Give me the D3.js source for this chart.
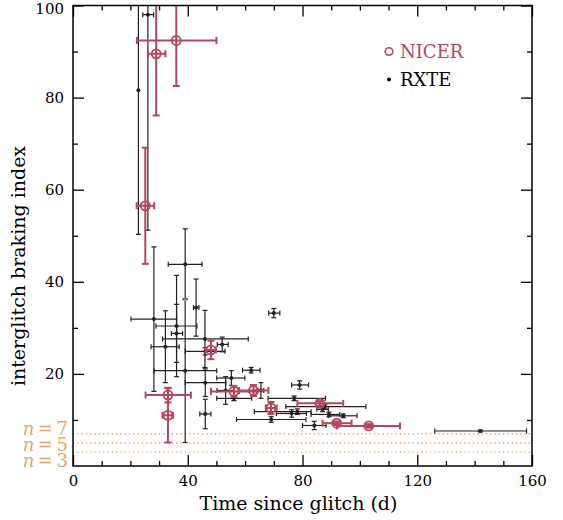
<!DOCTYPE html>
<html>
<head>
<meta charset="utf-8">
<script src="https://cdn.jsdelivr.net/npm/d3@7"></script>
<style>
  html, body { margin: 0; padding: 0; background: #fff; }
  svg { display: block; }
  text { font-family: "DejaVu Serif", serif; }
</style>
</head>
<body>
<svg id="chart" width="563" height="520"></svg>
<script>
// NICER measurements: time since glitch (d) with its range, braking index and its error
const nicerT    = [36.0, 29.0, 25.2, 48.1, 33.1, 33.1, 56.1, 62.9, 69.0, 86.1, 91.9, 103.1];
const nicerTLo  = [22.3, 26.1, 22.2, 46.2, 25.3, 31.2, 48.1, 57.9, 67.2, 78.2, 87.0, 92.0];
const nicerTHi  = [50.0, 32.2, 28.3, 49.9, 41.1, 34.9, 64.0, 68.1, 71.0, 94.2, 97.1, 114.0];
const nicerN    = [92.4, 89.5, 56.5, 25.2, 15.4, 11.0, 16.2, 16.4, 12.6, 13.6, 9.3, 8.7];
const nicerNErr = [9.9, 13.4, 12.6, 2.0, 1.6, 5.9, 1.2, 1.2, 1.3, 0.5, 0.4, 0.4];

// RXTE measurements
const rxteT    = [22.8, 26.1, 28.2, 39.1, 39.1, 39.1, 36.1, 36.1, 32.2, 42.9, 46.0, 46.1, 46.1, 46.1,
                  52.0, 70.0, 62.1, 55.2, 53.2, 56.1, 65.5, 79.0, 77.1, 87.8, 87.0, 89.2, 94.2,
                  76.2, 78.2, 69.1, 84.1, 142.0];
const rxteTLo  = [22.8, 24.3, 20.2, 33.2, 39.1, 28.3, 28.9, 34.3, 27.2, 42.0, 31.2, 39.1, 39.1, 44.2,
                  50.3, 68.2, 59.1, 50.1, 50.2, 50.1, 64.5, 76.2, 68.0, 74.2, 85.0, 83.0, 89.0,
                  70.9, 63.2, 57.0, 80.0, 126.1];
const rxteTHi  = [22.8, 28.1, 36.1, 45.0, 39.1, 50.1, 43.2, 38.2, 37.0, 43.9, 61.1, 53.0, 53.3, 48.1,
                  54.1, 72.1, 65.2, 59.9, 56.2, 62.3, 66.5, 82.1, 88.0, 102.1, 89.0, 93.0, 99.0,
                  81.4, 83.0, 81.2, 88.2, 158.1];
const rxteN    = [81.6, 98.0, 31.9, 43.8, 36.1, 20.7, 30.4, 28.8, 25.9, 34.4, 27.6, 24.9, 18.1, 11.3,
                  26.4, 33.2, 20.8, 19.1, 16.4, 14.7, 16.4, 17.6, 14.7, 12.9, 12.3, 11.2, 10.9,
                  11.4, 11.8, 10.1, 8.8, 7.6];
const rxteNErr = [31.3, 46.8, 15.7, 7.7, 0, 15.6, 11.0, 6.3, 7.8, 6.2, 6.2, 0.8, 3.0, 3.2,
                  1.6, 1.0, 0.6, 1.6, 3.0, 0.5, 1.7, 0.9, 0.5, 0.5, 0.5, 0.5, 0.4,
                  0.8, 0.6, 0.6, 0.9, 0.2];

// Reference braking indices drawn as dotted lines
const refN = [7, 5, 3];

// Axis ticks
const xMajor = [0, 40, 80, 120, 160];
const yMajor = [20, 40, 60, 80, 100];

const nicerColor = "#b4475d";
const refColor = "#e4a56b";

const margin = { left: 73, top: 5.5, right: 31, bottom: 54 };
const W = 563, H = 520;
const pw = W - margin.left - margin.right;   // 459
const ph = H - margin.top - margin.bottom;   // 460.5

const svg = d3.select("#chart");
const x = d3.scaleLinear().domain([0, 160]).range([0, pw]);
const y = d3.scaleLinear().domain([0, 100]).range([ph, 0]);

const g = svg.append("g").attr("transform", `translate(${margin.left},${margin.top})`);

g.append("clipPath").attr("id", "plotClip")
  .append("rect").attr("width", pw).attr("height", ph);

const plot = g.append("g").attr("clip-path", "url(#plotClip)");

// dotted reference lines
plot.selectAll("line.ref").data(refN).join("line")
  .attr("class", "ref")
  .attr("x1", 0).attr("x2", pw)
  .attr("y1", d => y(d)).attr("y2", d => y(d))
  .attr("stroke", refColor).attr("stroke-width", 1.3)
  .attr("stroke-dasharray", "1.3,3");

function drawSeries(layer, T, TLo, THi, N, NErr, opt) {
  const data = T.map((t, i) => ({ t, lo: TLo[i], hi: THi[i], n: N[i], e: NErr[i] }));
  const grp = layer.append("g")
    .attr("stroke", opt.color).attr("stroke-width", opt.sw).attr("fill", "none");
  data.forEach(d => {
    const cx = x(d.t), cy = y(d.n);
    if (d.hi > d.lo) {
      grp.append("line").attr("x1", x(d.lo)).attr("x2", x(d.hi)).attr("y1", cy).attr("y2", cy);
      grp.append("line").attr("x1", x(d.lo)).attr("x2", x(d.lo)).attr("y1", cy - opt.cap).attr("y2", cy + opt.cap);
      grp.append("line").attr("x1", x(d.hi)).attr("x2", x(d.hi)).attr("y1", cy - opt.cap).attr("y2", cy + opt.cap);
    }
    if (d.e > 0) {
      const yt = y(d.n + d.e), yb = y(d.n - d.e);
      grp.append("line").attr("x1", cx).attr("x2", cx).attr("y1", yt).attr("y2", yb);
      grp.append("line").attr("x1", cx - opt.cap).attr("x2", cx + opt.cap).attr("y1", yt).attr("y2", yt);
      grp.append("line").attr("x1", cx - opt.cap).attr("x2", cx + opt.cap).attr("y1", yb).attr("y2", yb);
    }
  });
  const marks = layer.append("g");
  if (opt.open) {
    marks.selectAll("circle").data(data).join("circle")
      .attr("cx", d => x(d.t)).attr("cy", d => y(d.n)).attr("r", opt.r)
      .attr("fill", "none").attr("stroke", opt.color).attr("stroke-width", 1.8);
  } else {
    // points without error bars are drawn as a faint small mark
    marks.selectAll("circle").data(data).join("circle")
      .attr("cx", d => x(d.t)).attr("cy", d => y(d.n))
      .attr("r", d => d.e > 0 ? opt.r : 1.5)
      .attr("fill", d => d.e > 0 ? opt.color : "#999");
  }
}

drawSeries(plot, rxteT, rxteTLo, rxteTHi, rxteN, rxteNErr,
  { color: "#222", sw: 1.2, cap: 2.5, r: 2, open: false });
drawSeries(plot, nicerT, nicerTLo, nicerTHi, nicerN, nicerNErr,
  { color: nicerColor, sw: 2, cap: 3.5, r: 4.5, open: true });

// frame
g.append("rect").attr("width", pw).attr("height", ph)
  .attr("fill", "none").attr("stroke", "#000").attr("stroke-width", 1.5);

// axes with inward ticks on all four sides
const xMinor = d3.range(0, 161, 10).filter(v => !xMajor.includes(v));
const yMinor = d3.range(0, 101, 10).filter(v => !yMajor.includes(v) && v !== 0);

function styleAxis(sel) {
  sel.select(".domain").remove();
  sel.selectAll(".tick line").attr("stroke", "#000").attr("stroke-width", 1.3);
  sel.selectAll(".tick text").attr("fill", "#000").attr("font-size", 15)
    .attr("font-family", "DejaVu Serif, serif");
}

g.append("g").attr("transform", `translate(0,${ph})`)
  .call(d3.axisBottom(x).tickValues(xMajor).tickSizeInner(-11).tickSizeOuter(0).tickPadding(9).tickFormat(d3.format("d")))
  .call(styleAxis);
g.append("g").attr("transform", `translate(0,${ph})`)
  .call(d3.axisBottom(x).tickValues(xMinor).tickSizeInner(-5).tickSizeOuter(0).tickFormat(""))
  .call(styleAxis);
g.append("g")
  .call(d3.axisTop(x).tickValues(xMajor).tickSizeInner(-11).tickSizeOuter(0).tickFormat(""))
  .call(styleAxis);
g.append("g")
  .call(d3.axisTop(x).tickValues(xMinor).tickSizeInner(-5).tickSizeOuter(0).tickFormat(""))
  .call(styleAxis);

const yAxisG = g.append("g")
  .call(d3.axisLeft(y).tickValues(yMajor).tickSizeInner(-11).tickSizeOuter(0).tickPadding(9).tickFormat(d3.format("d")))
  .call(styleAxis);
// keep the top label inside the page
yAxisG.selectAll(".tick text").filter(d => d === 100).attr("dy", "0.56em");

g.append("g")
  .call(d3.axisLeft(y).tickValues(yMinor).tickSizeInner(-5).tickSizeOuter(0).tickFormat(""))
  .call(styleAxis);
g.append("g").attr("transform", `translate(${pw},0)`)
  .call(d3.axisRight(y).tickValues(yMajor).tickSizeInner(-11).tickSizeOuter(0).tickFormat(""))
  .call(styleAxis);
g.append("g").attr("transform", `translate(${pw},0)`)
  .call(d3.axisRight(y).tickValues(yMinor).tickSizeInner(-5).tickSizeOuter(0).tickFormat(""))
  .call(styleAxis);

// axis titles
svg.append("text")
  .attr("x", margin.left + pw / 2 - 4).attr("y", 510)
  .attr("text-anchor", "middle").attr("font-size", 19).attr("fill", "#000")
  .text("Time since glitch (d)");
svg.append("text")
  .attr("transform", "translate(25,266) rotate(-90)")
  .attr("text-anchor", "middle").attr("font-size", 19).attr("fill", "#000")
  .text("interglitch braking index");

// labels for the reference lines
const refLabelY = [435, 451, 467];
refN.forEach((v, i) => {
  const t = svg.append("text")
    .attr("x", 68).attr("y", refLabelY[i])
    .attr("text-anchor", "end").attr("font-size", 18).attr("fill", refColor);
  t.append("tspan").attr("font-style", "italic").text("n");
  t.append("tspan").text("\u2009=\u2009" + v);
});

// legend
const leg = svg.append("g");
leg.append("circle").attr("cx", 389).attr("cy", 51.5).attr("r", 3.8)
  .attr("fill", "none").attr("stroke", nicerColor).attr("stroke-width", 1.6);
leg.append("text").attr("x", 400).attr("y", 58).attr("font-size", 18)
  .attr("fill", nicerColor).text("NICER");
leg.append("circle").attr("cx", 389).attr("cy", 79.5).attr("r", 2).attr("fill", "#000");
leg.append("text").attr("x", 400).attr("y", 86).attr("font-size", 18)
  .attr("fill", "#000").text("RXTE");
</script>
</body>
</html>
